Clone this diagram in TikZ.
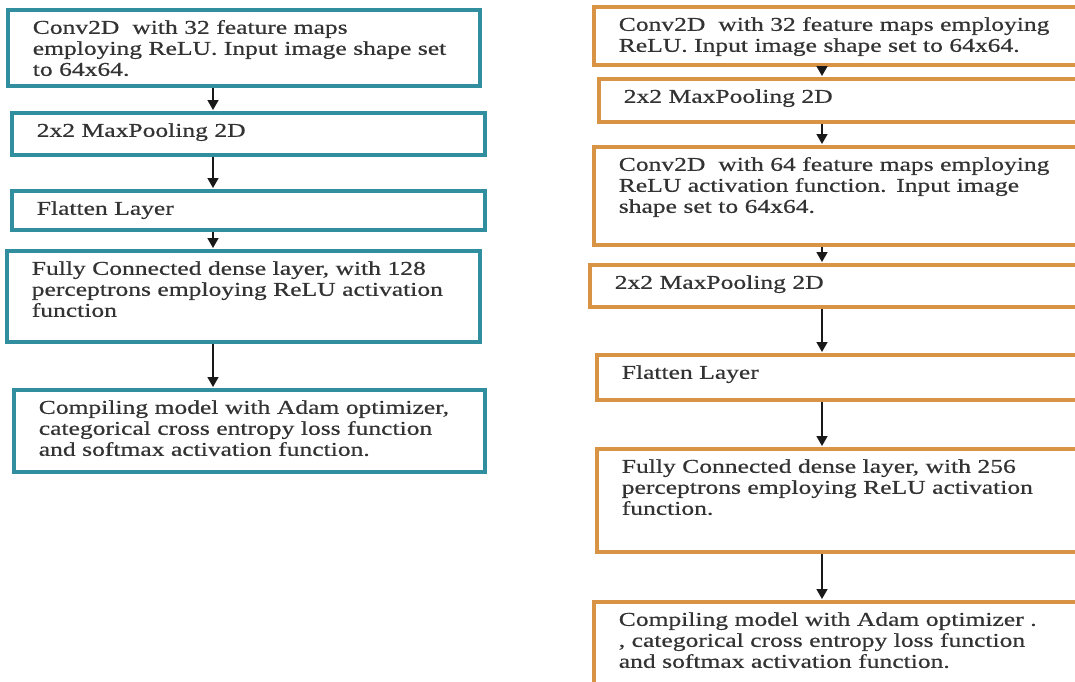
\documentclass[tikz,border=0pt]{standalone}
\usepackage{fontspec}
\setmainfont{Liberation Serif}[FakeStretch=1.31, FakeBold=0.6]
\usepackage{tikz}
\usetikzlibrary{arrows.meta,positioning}
\definecolor{cnnteal}{RGB}{48,142,158}
\definecolor{cnnorange}{RGB}{216,148,68}

\begin{document}
\begin{tikzpicture}[x=1pt, y=-1pt,
  layer/.style={draw, line width=3.6pt, fill=white, anchor=north west, align=left,
    inner xsep=25pt, inner ysep=0pt, text height=24pt, text=black!80,
    font=\fontsize{19.5}{21}\selectfont},
  tealbox/.style={layer, draw=cnnteal, text width=#1},
  orangebox/.style={layer, draw=cnnorange, text width=#1},
  flow/.style={-{Triangle[width=11pt, length=10pt]}, line width=1.6pt, black!90, shorten >=1pt}]
\path[use as bounding box, clip] (0,0) rectangle (1075,681);
\fill[white] (0,0) rectangle (1075,681);
% Left column
\node[tealbox=422pt, text depth=52pt] (l1) at (6,8) {Conv2D\ \ with 32 feature maps\\employing ReLU. Input image shape set\\to 64x64.};
\node[tealbox=423pt, text depth=18pt] (l2) at (10,111) {2x2 MaxPooling 2D};
\node[tealbox=423pt, text depth=15pt] (l3) at (10,189) {Flatten Layer};
\node[tealbox=423pt, text depth=67pt] (l4) at (5,249) {Fully Connected dense layer, with 128\\perceptrons employing ReLU activation\\function};
\node[tealbox=421pt, text depth=58pt] (l5) at (12,388) {Compiling model with Adam optimizer,\\categorical cross entropy loss function\\and softmax activation function.};
% Right column
\node[orangebox=450pt, text depth=34pt] (r1) at (592,5) {Conv2D\ \ with 32 feature maps employing\\ReLU. Input image shape set to 64x64.};
\node[orangebox=445pt, text depth=19pt] (r2) at (597,77) {2x2 MaxPooling 2D};
\node[orangebox=450pt, text depth=74pt] (r3) at (592,145) {Conv2D\ \ with 64 feature maps employing\\ReLU activation function. Input image\\shape set to 64x64.};
\node[orangebox=454pt, text depth=18pt] (r4) at (588,263) {2x2 MaxPooling 2D};
\node[orangebox=447pt, text depth=21pt] (r5) at (595,353) {Flatten Layer};
\node[orangebox=447pt, text depth=79pt] (r6) at (595,447) {Fully Connected dense layer, with 256\\perceptrons employing ReLU activation\\function.};
\node[orangebox=450pt, text depth=76pt] (r7) at (592,600) {Compiling model with Adam optimizer .\\, categorical cross entropy loss function\\and softmax activation function.};
% Arrows
\coordinate (lx) at (213,0);
\coordinate (rx) at (822,0);
\draw[flow] (l1.south -| lx) -- (l2.north -| lx);
\draw[flow] (l2.south -| lx) -- (l3.north -| lx);
\draw[flow] (l3.south -| lx) -- (l4.north -| lx);
\draw[flow] (l4.south -| lx) -- (l5.north -| lx);
\draw[flow] (r1.south -| rx) -- (r2.north -| rx);
\draw[flow] (r2.south -| rx) -- (r3.north -| rx);
\draw[flow] (r3.south -| rx) -- (r4.north -| rx);
\draw[flow] (r4.south -| rx) -- (r5.north -| rx);
\draw[flow] (r5.south -| rx) -- (r6.north -| rx);
\draw[flow] (r6.south -| rx) -- (r7.north -| rx);
\end{tikzpicture}
\end{document}
